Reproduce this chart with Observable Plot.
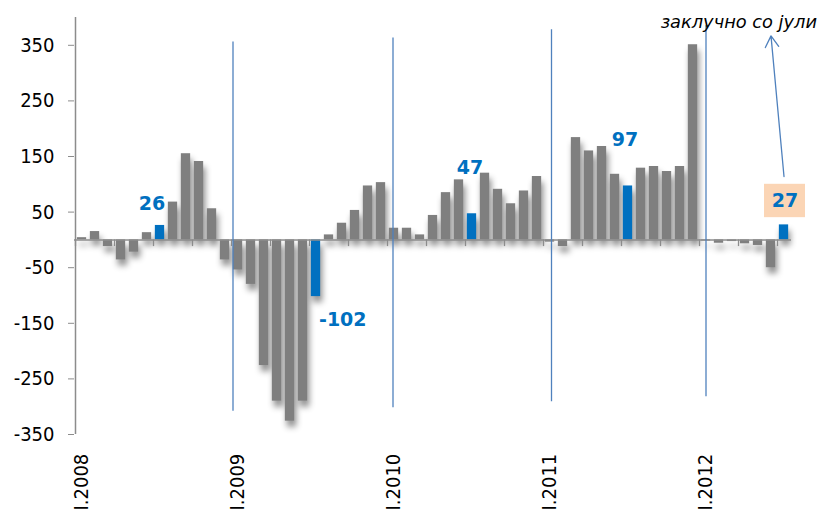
<!DOCTYPE html>
<html><head><meta charset="utf-8">
<script src="https://cdn.jsdelivr.net/npm/d3@7"></script>
<script src="https://cdn.jsdelivr.net/npm/@observablehq/plot@0.6"></script>
<style>
html,body{margin:0;padding:0;background:#fff;}
#chart svg{display:block;}
</style>
</head><body><div id="chart"></div>
<script>
// ---- data ----
const years = [2008, 2009, 2010, 2011, 2012];
const values2008 = [4, 15, -12, -36, -22, 13, 26, 68, 155, 141, 56, -36];
const values2009 = [-54, -80, -226, -290, -326, -290, -102, 9, 30, 53, 97, 103];
const values2010 = [21, 21, 9, 44, 85, 108, 47, 120, 91, 65, 88, 114];
const values2011 = [-4, -12, 184, 160, 168, 118, 97, 129, 132, 123, 132, 351];
const values2012 = [-2, -6, -3, -7, -10, -50, 27];
const highlightMonth = 7; // July bars in blue
const labelledMonths = ["2008-07", "2009-07", "2010-07", "2011-07", "2012-07"];
const yTicks = [-350, -250, -150, -50, 50, 150, 250, 350];
const noteText = "заклучно со јули";

// ---- table ----
const seriesByYear = [values2008, values2009, values2010, values2011, values2012];
const rows = [];
years.forEach((yr, i) => {
  seriesByYear[i].forEach((v, m) => {
    rows.push({key: `${yr}-${String(m + 1).padStart(2, "0")}`, year: yr, month: m + 1, value: v});
  });
});
const months = rows.map(d => d.key);
const janRows = rows.filter(d => d.month === 1);
const quarterRows = rows.filter(d => (d.month - 1) % 3 === 0);
const labelRows = rows.filter(d => labelledMonths.includes(d.key));

// annotation placement (layout, not data)
const labelPlace = {
  "2008-07": {y: 64, dx: -8, anchor: "middle"},
  "2009-07": {y: -143, dx: 3, anchor: "start"},
  "2010-07": {y: 129, dx: -2, anchor: "middle"},
  "2011-07": {y: 180, dx: -3, anchor: "middle"},
  "2012-07": {y: 71, dx: 1, anchor: "middle"}
};
const yearLineLayout = {2009: {y: [-308, 356], dx: -5}, 2010: {y: [-302, 363], dx: -1}, 2011: {y: [-291, 378], dx: 1.5}, 2012: {y: [-282, 385], dx: 0}};
const lastKey = months[months.length - 1];
const prevKey = months[months.length - 2];

const font = "'DejaVu Sans Condensed','DejaVu Sans',sans-serif";
const boldFont = "'DejaVu Sans',sans-serif";
const blue = "#0070c0";
const grey = "#7f7f7f";
const lineBlue = "#4f81bd";

const yearLineMarks = janRows.filter(d => yearLineLayout[d.year]).map(d =>
  Plot.ruleX([d], {x: "key", y1: () => yearLineLayout[d.year].y[0], y2: () => yearLineLayout[d.year].y[1], dx: yearLineLayout[d.year].dx, stroke: lineBlue, strokeWidth: 1.3})
);

const chart = Plot.plot({
  width: 822, height: 511,
  marginTop: 17, marginBottom: 77, marginLeft: 74, marginRight: 31,
  style: {fontFamily: font, background: "#fff", overflow: "visible"},
  x: {domain: months, padding: 0, axis: null},
  y: {domain: [-350, 400], axis: null},
  marks: [
    // bars
    Plot.barY(rows, {x: "key", y: "value", fill: d => d.month === highlightMonth ? blue : grey, insetLeft: 1.85, insetRight: 1.85}),
    // zero axis
    Plot.ruleY([0], {stroke: "#8c8c8c", strokeWidth: 1.5}),
    Plot.ruleX(quarterRows, {x: "key", y1: 0, y2: -12, dx: -6.5, stroke: "#8c8c8c", strokeWidth: 1.3}),
    // y axis
    Plot.ruleX([months[0]], {y1: -350, y2: 400, dx: -6.5, stroke: "#8c8c8c", strokeWidth: 1.5}),
    Plot.axisY({ticks: yTicks, tickSize: 6, tickPadding: 14, fontSize: 20, stroke: "#8c8c8c", fill: "#000", tickFormat: d => String(d)}),
    // x labels
    Plot.text(janRows, {x: "key", y: -350, text: d => "I." + d.year, rotate: -90, textAnchor: "start", dy: 76, fontSize: 20, fill: "#000"}),
    // year separators
    ...yearLineMarks,
    // box behind last label
    Plot.barY(rows.filter(d => d.key === lastKey), {x: "key", y1: 40, y2: 100, insetLeft: -13, insetRight: -15, fill: "#fbd5b5"}),
    // value labels
    Plot.text(labelRows, {x: "key", y: d => labelPlace[d.key].y, text: d => String(d.value), fill: blue, fontSize: 19, fontWeight: "bold", fontFamily: boldFont}),
    // arrow + note
    Plot.arrow([{x1: lastKey, y1: 114, x2: prevKey, y2: 367}], {x1: "x1", y1: "y1", x2: "x2", y2: "y2", stroke: lineBlue, strokeWidth: 1.3, headLength: 15, headAngle: 62}),
    Plot.text([{key: lastKey}], {x: "key", y: 391, text: () => noteText, textAnchor: "end", dx: 33, fontSize: 17.8, fontStyle: "italic", fontFamily: boldFont, fill: "#000"})
  ]
});
// per-label horizontal offsets and anchors
const textGroups = Array.from(chart.querySelectorAll('g[aria-label="text"]'));
const labelGroup = textGroups.find(g => g.getAttribute("font-weight") === "bold") || textGroups[1];
if (labelGroup) {
  labelGroup.querySelectorAll("text").forEach((t, i) => {
    const p = labelPlace[labelRows[i].key];
    const tr = t.getAttribute("transform") || "";
    t.setAttribute("transform", tr + ` translate(${p.dx},0)`);
    t.setAttribute("text-anchor", p.anchor);
  });
}
const barGroups = chart.querySelectorAll('g[aria-label="bar"]');
if (barGroups[0]) barGroups[0].setAttribute("style", "filter: drop-shadow(2px 6px 3px rgba(0,0,0,0.45))");
document.getElementById("chart").appendChild(chart);
</script>
</body></html>
